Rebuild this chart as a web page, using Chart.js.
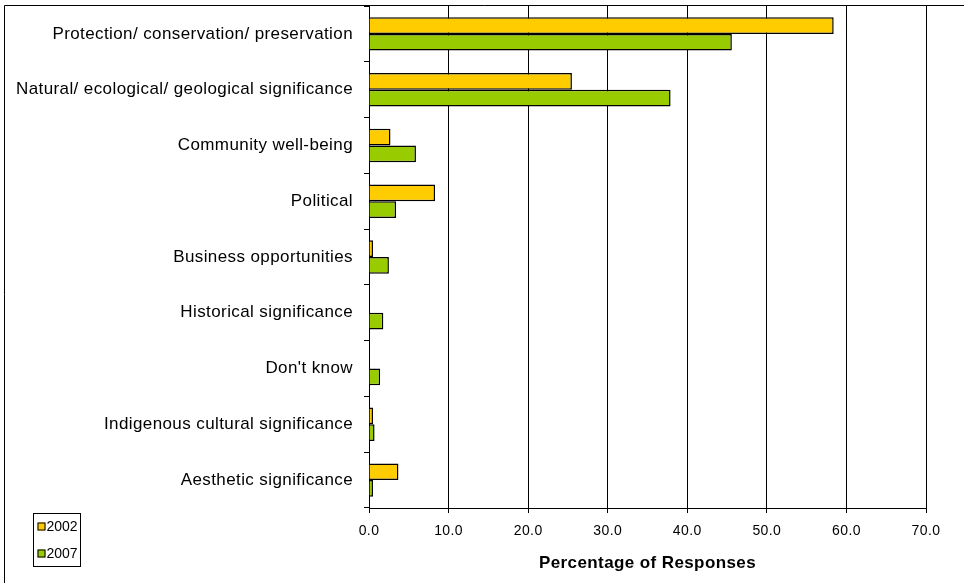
<!DOCTYPE html>
<html>
<head>
<meta charset="utf-8">
<script src="https://cdn.jsdelivr.net/npm/chart.js@4.4.1/dist/chart.umd.min.js"></script>
<style>
  html, body { margin: 0; padding: 0; background: #fff; }
  #wrap { position: relative; width: 964px; height: 583px; }
</style>
</head>
<body>
<div id="wrap"><canvas id="c" width="964" height="583"></canvas></div>
<script>
// Reasons given for protected areas, share of responses by survey year
const categories = [
  'Protection/ conservation/ preservation',
  'Natural/ ecological/ geological significance',
  'Community well-being',
  'Political',
  'Business opportunities',
  'Historical significance',
  "Don't know",
  'Indigenous cultural significance',
  'Aesthetic significance'
];
const series2002 = [58.4, 25.5, 2.7, 8.3, 0.5, 0, 0, 0.5, 3.7];
const series2007 = [45.6, 37.9, 5.9, 3.4, 2.5, 1.8, 1.4, 0.7, 0.5];
const seriesNames = ['2002', '2007'];
const xTicks = [0, 10, 20, 30, 40, 50, 60, 70];
const axisTitle = 'Percentage of Responses';

const FONT = 'Arial, "Liberation Sans", sans-serif';
const SPACING = '0.4px';

// Outer frame and the boxed legend in the lower left corner
const framePlugin = {
  id: 'frameAndLegend',
  beforeUpdate(chart) { chart.ctx.letterSpacing = SPACING; },
  beforeDraw(chart) { chart.ctx.letterSpacing = SPACING; },
  afterDraw(chart) {
    const ctx = chart.ctx;
    ctx.save();
    ctx.strokeStyle = '#000';
    ctx.lineWidth = 1;
    ctx.beginPath();
    ctx.moveTo(4.5, 583);
    ctx.lineTo(4.5, 5.5);
    ctx.lineTo(964, 5.5);
    ctx.stroke();

    // legend box
    const bx = 33.5, by = 513.5, bw = 47, bh = 53;
    ctx.fillStyle = '#fff';
    ctx.fillRect(bx, by, bw, bh);
    ctx.strokeStyle = '#000';
    ctx.strokeRect(bx, by, bw, bh);
    ctx.letterSpacing = '0px';
    ctx.font = '14px ' + FONT;
    ctx.textBaseline = 'middle';
    chart.data.datasets.forEach((ds, i) => {
      const cy = by + 13 + i * 27;
      ctx.fillStyle = ds.backgroundColor;
      ctx.fillRect(bx + 4, cy - 4, 8, 8);
      ctx.strokeStyle = '#000';
      ctx.strokeRect(bx + 4.5, cy - 3.5, 7, 7);
      ctx.fillStyle = '#000';
      ctx.textAlign = 'left';
      ctx.fillText(ds.label, bx + 13, cy + 0.5);
    });
    ctx.restore();
  }
};

new Chart(document.getElementById('c'), {
  type: 'bar',
  data: {
    labels: categories,
    datasets: [
      { label: seriesNames[0], data: series2002, backgroundColor: '#FFCC00', borderColor: '#000', borderWidth: 1.5 },
      { label: seriesNames[1], data: series2007, backgroundColor: '#99CC00', borderColor: '#000', borderWidth: 1.5 }
    ]
  },
  options: {
    indexAxis: 'y',
    responsive: false,
    animation: false,
    devicePixelRatio: 1,
    layout: { padding: { left: 0, right: 38, top: 6, bottom: 0 } },
    datasets: { bar: { categoryPercentage: 0.6, barPercentage: 1.0 } },
    plugins: {
      legend: { display: false },
      tooltip: { enabled: false }
    },
    scales: {
      x: {
        min: 0,
        max: 70,
        afterBuildTicks(scale) { scale.ticks = xTicks.map(v => ({ value: v })); },
        afterFit(scale) {
          scale.height = 75;
          scale.paddingLeft = 0;
          scale.paddingRight = 0;
        },
        grid: { color: '#000', lineWidth: 1, tickLength: 5, drawTicks: true },
        border: { color: '#000', width: 1 },
        ticks: {
          color: '#000',
          font: { family: FONT, size: 14 },
          padding: 10,
          callback: v => Number(v).toFixed(1)
        },
        title: {
          display: true,
          text: axisTitle,
          color: '#000',
          font: { family: FONT, size: 17, weight: 'bold' },
          padding: { top: 2, bottom: 9 }
        }
      },
      y: {
        afterFit(scale) {
          scale.width = 369;
          scale.paddingTop = 0;
          scale.paddingBottom = 0;
        },
        grid: { drawOnChartArea: false, drawTicks: true, tickLength: 5, color: '#000', offset: true },
        border: { color: '#000', width: 1 },
        ticks: {
          color: '#000',
          font: { family: FONT, size: 17 },
          padding: 11,
          autoSkip: false
        }
      }
    }
  },
  plugins: [framePlugin]
});
</script>
</body>
</html>
